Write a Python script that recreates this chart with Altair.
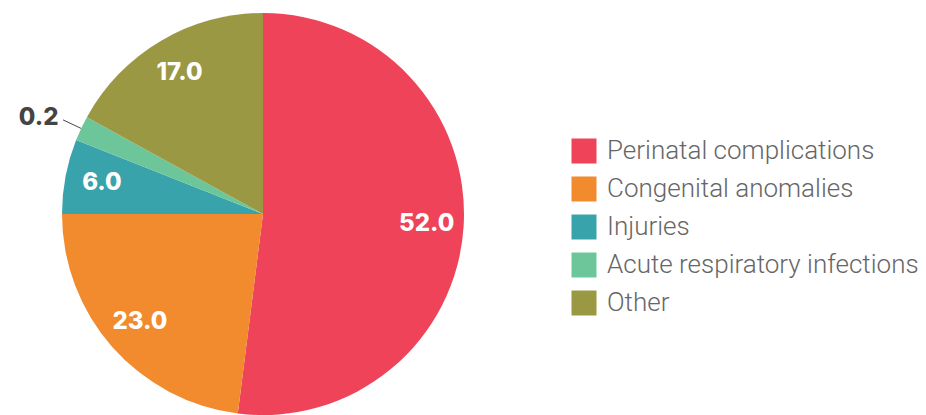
import altair as alt
import pandas as pd

categories = ["Perinatal complications", "Congenital anomalies", "Injuries",
              "Acute respiratory infections", "Other"]
values = [52.0, 23.0, 6.0, 2.0, 17.0]
labels = ["52.0", "23.0", "6.0", "0.2", "17.0"]
colors = ["#EE4358", "#F28A2E", "#38A3AB", "#6CC699", "#9A9842"]

df = pd.DataFrame({"cat": categories, "value": values, "label": labels,
                   "order": list(range(len(categories)))})

CX, CY, R = 255, 206, 201

base = alt.Chart(df).transform_calculate(
    inner="datum.value >= 3 ? datum.label : ''",
    outer="datum.value < 3 ? datum.label : ''",
)

theta = alt.Theta("value:Q", stack=True)
order = alt.Order("order:Q", sort="ascending")

pie = base.mark_arc(outerRadius=R).encode(
    theta=theta,
    order=order,
    x=alt.value(CX), y=alt.value(CY),
    color=alt.Color("cat:N", sort=categories,
                    scale=alt.Scale(domain=categories, range=colors),
                    legend=alt.Legend(title=None, orient="none", legendX=563, legendY=130,
                                      symbolType="square", symbolSize=625,
                                      symbolStrokeWidth=0,
                                      labelFont="Roboto", labelFontWeight=300,
                                      labelFontSize=26, labelColor="#666666",
                                      rowPadding=12, labelOffset=10,
                                      labelLimit=400)),
)

inner_text = base.mark_text(radius=164, font="Inter", fontWeight=800, fontSize=24,
                            color="white", align="center", baseline="middle").encode(
    theta=theta, order=order, x=alt.value(CX), y=alt.value(CY),
    text="inner:N",
)

outer_text = base.mark_text(radius=226, font="Inter", fontWeight=800, fontSize=24,
                            color="#444444", align="right", baseline="middle").encode(
    theta=theta, order=order, x=alt.value(CX), y=alt.value(CY),
    text="outer:N",
)

leader = alt.Chart(df).transform_joinaggregate(
    total="sum(value)"
).transform_window(
    cum="sum(value)", sort=[alt.SortField("order", order="ascending")],
    frame=[None, 0]
).transform_calculate(
    mid="(datum.cum - datum.value / 2) / datum.total * 2 * PI",
).transform_filter("datum.value < 3").transform_calculate(
    x1=f"{CX} + {R} * sin(datum.mid)",
    y1=f"{CY} - {R} * cos(datum.mid)",
    x2=f"{CX} + 221 * sin(datum.mid)",
    y2=f"{CY} - 221 * cos(datum.mid)",
).mark_rule(color="#444444", strokeWidth=1).encode(
    x=alt.X("x1:Q", scale=None), y=alt.Y("y1:Q", scale=None),
    x2="x2:Q", y2="y2:Q",
)

chart = alt.layer(pie, inner_text, outer_text, leader).properties(
    width=910, height=407, autosize="none", padding=0
).configure_view(stroke=None)

chart.save("out.html", embed_options={"renderer": "svg", "actions": False})
